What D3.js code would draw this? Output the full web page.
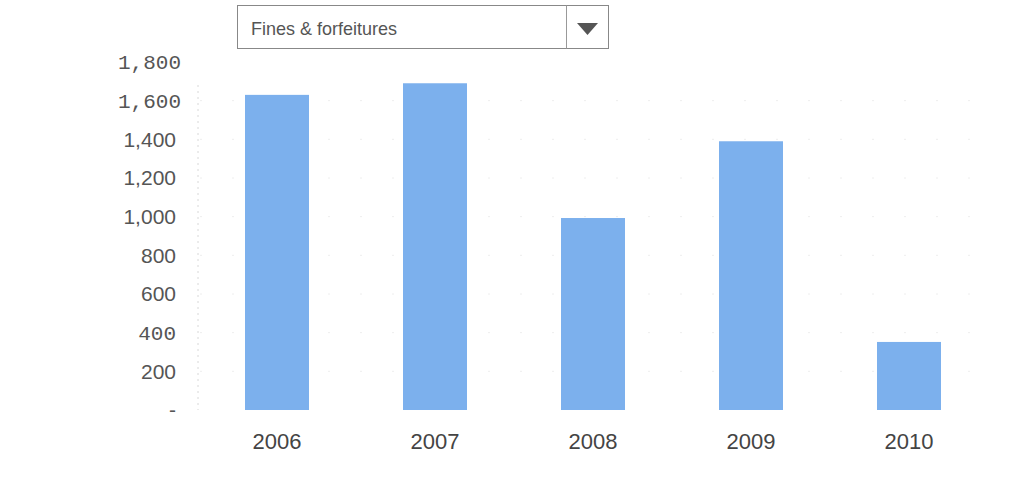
<!DOCTYPE html>
<html>
<head>
<meta charset="utf-8">
<script src="https://cdn.jsdelivr.net/npm/d3@7"></script>
<style>
  body { margin: 0; background: #fff; }
  svg { display: block; }
</style>
</head>
<body>
<svg id="chart" width="1018" height="482"></svg>
<script>
// data
const years = ['2006', '2007', '2008', '2009', '2010']
const values = [1630, 1690, 993, 1390, 352]
const yTicks = [0, 200, 400, 600, 800, 1000, 1200, 1400, 1600, 1800]
const dropdownLabel = 'Fines & forfeitures'

const svg = d3.select('#chart')

// scales
const x = d3.scaleBand()
    .domain(years)
    .range([198, 988])
    .paddingInner(0.595)
    .paddingOuter(0.2975)

const y = d3.scaleLinear()
    .domain([0, 1800])
    .range([410, 62])

// faint left guide line
svg.append('line')
    .attr('x1', 198).attr('x2', 198)
    .attr('y1', 85).attr('y2', 410)
    .style('stroke', '#d8d8d8')
    .style('stroke-dasharray', '2,4')

// faint dotted grid
svg.append('g')
    .selectAll('line')
    .data(yTicks.filter(d => d > 0 && d < 1800))
    .join('line')
    .attr('x1', 200).attr('x2', 990)
    .attr('y1', d => y(d)).attr('y2', d => y(d))
    .style('stroke', '#eeeeee')
    .style('stroke-dasharray', '2,30')

// bars
svg.append('g')
    .selectAll('rect')
    .data(years)
    .join('rect')
    .attr('x', d => x(d))
    .attr('width', x.bandwidth())
    .attr('y', (d, i) => y(values[i]))
    .attr('height', (d, i) => y(0) - y(values[i]))
    .style('fill', '#7cb0ed')

// y axis
const yAxis = svg.append('g')
    .attr('transform', 'translate(176,0)')
    .call(d3.axisLeft(y).tickValues(yTicks).tickSize(0).tickPadding(0)
        .tickFormat(d => d === 0 ? '-' : d3.format(',')(d)))
yAxis.select('.domain').remove()
yAxis.selectAll('text')
    .style('font-family', d => (d === 1800 || d === 1600 || d === 400) ? '"Liberation Mono", monospace' : '"Liberation Sans", Arial, sans-serif')
    .style('font-size', '21px')
    .style('fill', '#555')
    .attr('dx', d => (d === 1800 || d === 1600) ? 5 : 0)

// x axis
const xAxis = svg.append('g')
    .attr('transform', 'translate(0,441)')
    .call(d3.axisBottom(x).tickSize(0).tickPadding(0))
xAxis.select('.domain').remove()
xAxis.selectAll('text')
    .attr('dy', '0.35em')
    .style('font-family', '"Liberation Sans", Arial, sans-serif')
    .style('font-size', '22px')
    .style('fill', '#444')

// dropdown
const dd = svg.append('g')
dd.append('rect')
    .attr('x', 237.5).attr('y', 5.5)
    .attr('width', 371).attr('height', 43)
    .style('fill', '#fff')
    .style('stroke', '#888')
dd.append('line')
    .attr('x1', 566.5).attr('x2', 566.5)
    .attr('y1', 5.5).attr('y2', 48.5)
    .style('stroke', '#999')
dd.append('path')
    .attr('d', 'M577,23 L598,23 L587.5,35 Z')
    .style('fill', '#555')
dd.append('text')
    .attr('x', 251).attr('y', 35)
    .attr('textLength', 146)
    .attr('lengthAdjust', 'spacingAndGlyphs')
    .style('font-family', '"Liberation Sans", Arial, sans-serif')
    .style('font-size', '19px')
    .style('fill', '#555')
    .text(dropdownLabel)
</script>
</body>
</html>
